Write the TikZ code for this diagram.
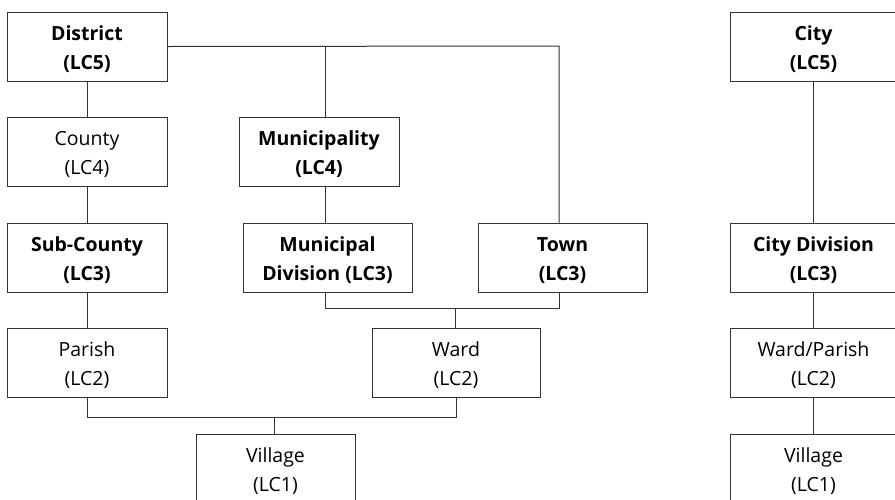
\documentclass[tikz,border=0pt]{standalone}
\usepackage{fontspec}
\setmainfont{Open Sans}
\tikzset{
  box/.style={draw=black!80, line width=1pt, fill=white, rectangle,
    inner sep=0pt, minimum height=69pt},
  txt/.style={align=center, inner sep=0pt, yshift=-3pt, font=\fontsize{19.5}{29}\selectfont},
  btxt/.style={txt, font=\fontsize{19.5}{29}\selectfont\bfseries},
  link/.style={draw=black!80, line width=1pt}
}
\begin{document}
\begin{tikzpicture}[x=1pt,y=-1pt]
\useasboundingbox (0,0) rectangle (895,499);
\clip (0,0) rectangle (895,499);
\fill[white] (0,0) rectangle (895,499);
% left tree
\node[box, minimum width=160pt, label={[btxt]center:{District\\(LC5)}}] (district) at (87,46.5) {};
\node[box, minimum width=160pt, label={[txt]center:{County\\(LC4)}}] (county) at (87,151.5) {};
\node[box, minimum width=160pt, label={[btxt]center:{Sub-County\\(LC3)}}] (subcounty) at (87,257.5) {};
\node[box, minimum width=160pt, label={[txt]center:{Parish\\(LC2)}}] (parish) at (87,362.5) {};
\node[box, minimum width=160pt, label={[btxt]center:{Municipality\\(LC4)}}] (muni) at (319,151.5) {};
\node[box, minimum width=169pt, label={[btxt]center:{Municipal\\Division (LC3)}}] (mdiv) at (327.5,257.5) {};
\node[box, minimum width=169pt, label={[btxt]center:{Town\\(LC3)}}] (town) at (562.5,257.5) {};
\node[box, minimum width=168pt, label={[txt]center:{Ward\\(LC2)}}] (ward) at (456,362.5) {};
\node[box, minimum width=159pt, label={[txt]center:{Village\\(LC1)}}] (village) at (275.5,468.5) {};
% right tree
\node[box, minimum width=167pt, label={[btxt]center:{City\\(LC5)}}] (city) at (813.5,46.5) {};
\node[box, minimum width=167pt, label={[btxt]center:{City Division\\(LC3)}}] (citydiv) at (813.5,257.5) {};
\node[box, minimum width=167pt, label={[txt]center:{Ward/Parish\\(LC2)}}] (wardpar) at (813.5,362.5) {};
\node[box, minimum width=167pt, label={[txt]center:{Village\\(LC1)}}] (village2) at (813.5,468.5) {};
% junction coordinates
\coordinate (c1) at (325,46);
\coordinate (c2) at (559,46);
\coordinate (j1) at (455,308);
\coordinate (j2) at (274,417);
% connectors
\draw[link] (district) -- (county);
\draw[link] (county) -- (subcounty);
\draw[link] (subcounty) -- (parish);
\draw[link] (district.east) -- (c2) -- (c2 |- town.north);
\draw[link] (c1) -- (c1 |- muni.north);
\draw[link] (c1 |- muni.south) -- (c1 |- mdiv.north);
\draw[link] (c1 |- mdiv.south) -- (c1 |- j1) -- (c2 |- j1) -- (c2 |- town.south);
\draw[link] (j1) -- (j1 |- ward.north);
\draw[link] (parish.south) -- (parish.south |- j2) -- (ward.south |- j2) -- (ward.south);
\draw[link] (j2) -- (j2 |- village.north);
\draw[link] (city) -- (citydiv);
\draw[link] (citydiv) -- (wardpar);
\draw[link] (wardpar) -- (village2);
\end{tikzpicture}
\end{document}
